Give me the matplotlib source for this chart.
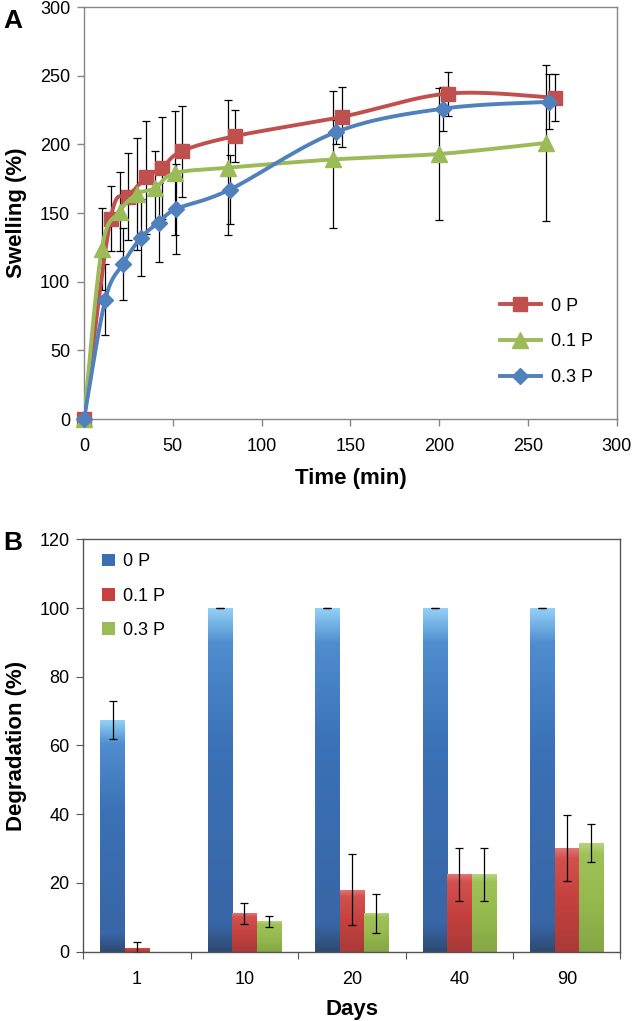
import numpy as np
import matplotlib
matplotlib.use("Agg")
import matplotlib.pyplot as plt
from matplotlib.colors import LinearSegmentedColormap

plt.rcParams['font.family'] = ['Liberation Sans', 'DejaVu Sans']

# ---- A: swelling data ----
time_0p = [0, 15, 25, 35, 44, 55, 85, 145, 205, 265]
swell_0p = [0, 146, 162, 176, 183, 195, 206, 220, 237, 234]
err_0p = [0, 24, 32, 41, 37, 33, 19, 22, 16, 17]

time_01p = [0, 10, 20, 30, 40, 51, 81, 140, 200, 260]
swell_01p = [0, 124, 151, 164, 168, 179, 183, 189, 193, 201]
err_01p = [0, 30, 29, 41, 27, 45, 49, 50, 48, 57]

time_03p = [0, 12, 22, 32, 42, 52, 82, 142, 202, 262]
swell_03p = [0, 87, 113, 132, 143, 153, 167, 209, 226, 231]
err_03p = [0, 26, 26, 28, 29, 33, 25, 9, 16, 20]

# ---- B: degradation data ----
days = ['1', '10', '20', '40', '90']
deg_0p = [67.3, 100, 100, 100, 100]
deg_err_0p = [5.5, 0, 0, 0, 0]
deg_01p = [1.2, 11.2, 18.0, 22.5, 30.1]
deg_err_01p = [1.5, 3.1, 10.3, 7.8, 9.6]
deg_03p = [0, 8.9, 11.2, 22.5, 31.7]
deg_err_03p = [0, 1.6, 5.7, 7.8, 5.5]

RED = '#C0504D'
GREEN = '#9BBB59'
BLUE = '#4F81BD'
SPINE = '#868686'


def smooth(x, y, n=30):
    # Excel-like smoothed line: Catmull-Rom bezier through the points
    p = np.column_stack([x, y]).astype(float)
    pts = np.vstack([p[0], p, p[-1]])
    out = []
    tt = np.linspace(0, 1, n)[:, None]
    for i in range(1, len(pts) - 2):
        p0, p3 = pts[i], pts[i + 1]
        c1 = p0 + (pts[i + 1] - pts[i - 1]) / 6
        c2 = p3 - (pts[i + 2] - pts[i]) / 6
        seg = ((1 - tt) ** 3) * p0 + 3 * ((1 - tt) ** 2) * tt * c1 + 3 * (1 - tt) * tt ** 2 * c2 + tt ** 3 * p3
        out.append(seg)
    out = np.vstack(out)
    return out[:, 0], out[:, 1]


fig = plt.figure(figsize=(6.32, 10.21), dpi=100)

# ================= A =================
ax1 = fig.add_axes([0.1329, 0.5896, 0.843, 0.4035])
series = [
    (time_0p, swell_0p, err_0p, RED, 's', 10, '0 P'),
    (time_01p, swell_01p, err_01p, GREEN, '^', 11, '0.1 P'),
    (time_03p, swell_03p, err_03p, BLUE, 'D', 8.5, '0.3 P'),
]
handles = []
for k, (t, s, e, c, m, ms, lab) in enumerate(series):
    ax1.errorbar(t[1:], s[1:], yerr=e[1:], fmt='none', ecolor='black',
                 elinewidth=0.9, capsize=3, capthick=0.9, zorder=2)
    xs, ys = smooth(t, s)
    ax1.plot(xs, ys, color=c, lw=2.8, zorder=3 + k, solid_capstyle='round')
    ax1.plot(t, s, ls='none', marker=m, ms=ms, color=c, mec=c, zorder=3 + k, clip_on=False)
    h, = ax1.plot([], [], color=c, lw=2.8, marker=m, ms=ms, mec=c, label=lab)
    handles.append(h)

ax1.set_xlim(0, 300)
ax1.set_ylim(0, 300)
ax1.set_xticks(np.arange(0, 301, 50))
ax1.set_yticks(np.arange(0, 301, 50))
ax1.tick_params(direction='out', length=5, width=1, color=SPINE,
                labelsize=13, labelcolor='black')
ax1.tick_params(axis='x', pad=9)
ax1.tick_params(axis='y', pad=5)
for sp in ax1.spines.values():
    sp.set_color(SPINE)
    sp.set_linewidth(1)
ax1.set_xlabel('Time (min)', fontsize=16, fontweight='bold', labelpad=9)
ax1.set_ylabel('Swelling (%)', fontsize=16, fontweight='bold', labelpad=9)
ax1.legend(handles=handles, loc='center', bbox_to_anchor=(0.868, 0.187),
           frameon=False, fontsize=13, handlelength=2.3, labelspacing=1.05,
           handletextpad=0.55, numpoints=1)
fig.text(0.005, 0.979, 'A', fontsize=19, fontweight='bold', ha='left', va='center')

# ================= B =================
ax2 = fig.add_axes([0.1318, 0.0679, 0.850, 0.4039])
x = np.arange(len(days))
w = 0.228

cmaps = {
    'blue': LinearSegmentedColormap.from_list('b', [(0, '#2E4A72'), (0.08, '#3866A6'),
                                                   (0.6, '#3B71B6'), (0.9, '#4F8DCF'),
                                                   (1.0, '#93D0F7')]),
    'red': LinearSegmentedColormap.from_list('r', [(0, '#A93A38'), (0.5, '#C5413E'),
                                                  (0.9, '#D2504E'), (1.0, '#E27674')]),
    'green': LinearSegmentedColormap.from_list('g', [(0, '#84A646'), (0.5, '#97BA4E'),
                                                    (0.9, '#9EC258'), (1.0, '#B7D37E')]),
}

groups = [
    (deg_0p, deg_err_0p, -w, 'blue', '#3C6EB4', '0 P'),
    (deg_01p, deg_err_01p, 0, 'red', '#C8403E', '0.1 P'),
    (deg_03p, deg_err_03p, w, 'green', GREEN, '0.3 P'),
]
grad = np.linspace(0, 1, 256).reshape(-1, 1)
leg_handles = []
for vals, errs, off, cm, solid, lab in groups:
    bars = ax2.bar(x + off, vals, width=w, color=solid, edgecolor='none', zorder=2, label=lab)
    leg_handles.append(bars)
    for b in bars:
        if b.get_height() <= 0:
            continue
        bx, by = b.get_x(), b.get_y()
        im = ax2.imshow(grad, cmap=cmaps[cm], origin='lower', aspect='auto',
                        extent=[bx, bx + b.get_width(), by, by + b.get_height()], zorder=2.5)
        im.set_clip_path(b)
    vals_a = np.array(vals, dtype=float)
    mask = vals_a > 0
    ax2.errorbar((x + off)[mask], vals_a[mask], yerr=np.array(errs)[mask], fmt='none',
                 ecolor='black', elinewidth=0.9, capsize=3, capthick=0.9, zorder=4)

ax2.set_xlim(-0.5, len(days) - 0.5)
ax2.set_ylim(0, 120)
ax2.set_yticks(np.arange(0, 121, 20))
ax2.set_xticks(np.arange(-0.5, len(days), 1))
ax2.set_xticklabels([])
ax2.set_xticks(x, minor=True)
ax2.set_xticklabels(days, minor=True)
ax2.tick_params(axis='x', which='minor', length=0, labelsize=13, pad=14)
ax2.tick_params(axis='x', which='major', direction='out', length=5, color='#555555')
ax2.tick_params(axis='y', direction='out', length=5, color='#555555', labelsize=13, pad=5)
for sp in ax2.spines.values():
    sp.set_color('#555555')
    sp.set_linewidth(1)
ax2.set_xlabel('Days', fontsize=16, fontweight='bold', labelpad=8)
ax2.set_ylabel('Degradation (%)', fontsize=16, fontweight='bold', labelpad=9)
ax2.legend(handles=leg_handles, loc='upper left', bbox_to_anchor=(0.005, 1.005),
           frameon=False, fontsize=13, handlelength=0.7, handleheight=0.7,
           labelspacing=0.95, handletextpad=0.45)
fig.text(0.005, 0.4685, 'B', fontsize=19, fontweight='bold', ha='left', va='center')

fig.savefig('out.png', dpi=100)
